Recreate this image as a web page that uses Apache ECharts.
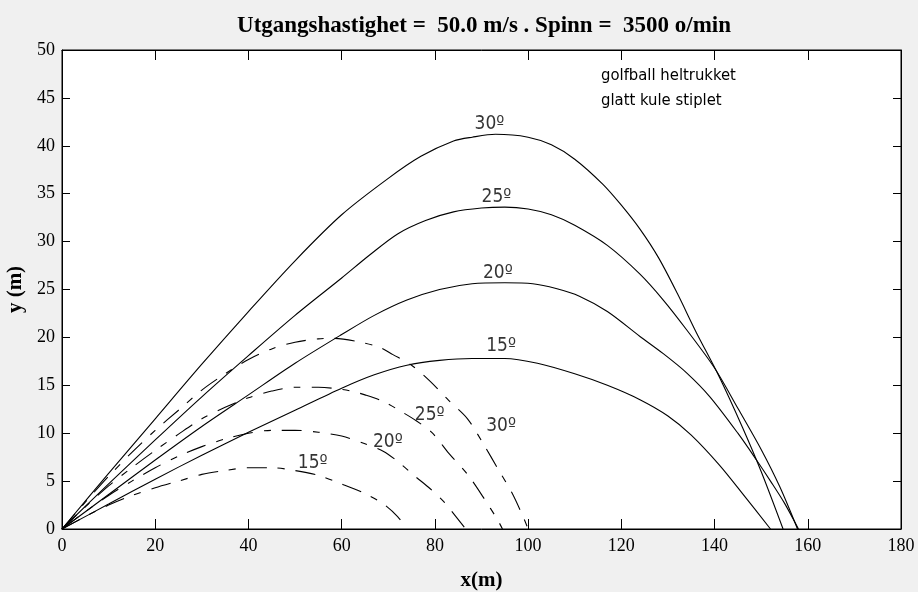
<!DOCTYPE html>
<html><head><meta charset="utf-8">
<script src="https://cdn.jsdelivr.net/npm/echarts@6/dist/echarts.min.js"></script>
<style>html,body{margin:0;padding:0;background:#f0f0f0}#c{width:918px;height:592px}</style>
</head><body><div id="c"></div>
<script>
// Golf ball (solid) trajectories [x, y]
const golf30 = [[0,0],[10,5.8],[20,11.5],[30,17.2],[40,22.7],[50,28.0],[60,32.8],[70,36.6],[77,38.9],[84,40.5],[88,40.9],[93,41.2],[100,40.9],[105,40.1],[110,38.6],[116,36.0],[120,33.8],[124,31.3],[128,28.3],[132,24.6],[136,20.6],[141,15.9],[146,10.6],[150,6.0],[154.7,0]];
const golf25 = [[0,0],[10,4.7],[20,9.3],[30,13.8],[40,18.1],[50,22.3],[60,26.2],[66,28.6],[72,30.8],[78,32.2],[84,33.1],[90,33.5],[95,33.6],[100,33.4],[105,32.8],[110,31.7],[117,29.6],[124,26.6],[129,23.9],[134,20.8],[140,16.8],[145,12.6],[150,8.3],[154,4.4],[157.8,0]];
const golf20 = [[0,0],[10,3.6],[20,7.2],[30,10.7],[40,14.0],[50,17.3],[60,20.3],[67,22.3],[74,23.9],[81,25.0],[88,25.6],[95,25.7],[101,25.6],[106,25.1],[111,24.3],[117,22.7],[124,20.1],[129,18.3],[134,16.3],[139,13.8],[145,10.0],[149,7.2],[152,5.0],[155,2.7],[158,0]];
const golf15 = [[0,0],[10,2.6],[20,5.2],[30,7.7],[40,10.1],[50,12.4],[60,14.7],[67,16.1],[74,17.1],[81,17.6],[88,17.8],[95,17.8],[102,17.3],[110,16.2],[117,15.0],[124,13.5],[130,11.8],[135,9.8],[141,6.7],[146,3.7],[152,0]];
// Smooth ball (dashed) trajectories [x, y]
const smooth30 = [[0,0],[5,2.8],[10,5.5],[15,8.0],[20,10.3],[25,12.4],[30,14.5],[35,16.2],[40,17.7],[45,18.8],[50,19.5],[55,19.85],[58,19.9],[63,19.6],[68,19.0],[71,18.2],[75,17.1],[79,15.4],[83,13.4],[87,11.5],[90.5,8.8],[93.5,6.3],[96.5,3.8],[99,1.2],[100,0]];
const smooth25 = [[0,0],[5,2.3],[10,4.5],[15,6.4],[20,8.2],[25,9.9],[30,11.5],[35,12.7],[40,13.7],[45,14.4],[50,14.8],[55,14.8],[58,14.7],[62,14.4],[65,14.0],[69,13.3],[73,12.2],[76,11.3],[79.5,10.0],[83,7.9],[87,5.7],[90.4,3.3],[93.4,1.0],[94.5,0]];
const smooth20 = [[0,0],[5,1.8],[10,3.5],[15,5.0],[20,6.4],[25,7.6],[30,8.6],[35,9.4],[40,10.0],[45,10.3],[50,10.3],[55,10.1],[60,9.7],[65,8.9],[69,8.1],[72.4,6.9],[76,5.4],[79,4.2],[82,2.8],[86.6,0]];
const smooth15 = [[0,0],[5,1.3],[10,2.5],[15,3.5],[20,4.3],[25,5.0],[30,5.7],[35,6.1],[40,6.4],[45,6.4],[50,6.1],[55,5.6],[60,4.7],[65,3.7],[69,2.6],[72,1.3],[74,0]];
// Angle annotations [x, y, text]
const solidLabels = [[91.7,42.3,'30º'],[93.2,34.7,'25º'],[93.5,26.7,'20º'],[94.2,19.1,'15º']];
const dashLabels = [[78.9,11.9,'25º'],[94.2,10.7,'30º'],[69.9,9.1,'20º'],[53.8,6.9,'15º']];
const titleText = 'Utgangshastighet =  50.0 m/s . Spinn =  3500 o/min';
const legendText = 'golfball heltrukket\nglatt kule stiplet';

const sansN = '"Liberation Sans Narrow","DejaVu Sans Condensed","Liberation Sans",sans-serif';
const serif = '"Liberation Serif","DejaVu Serif",serif';

function solid(d){return {type:'line',data:d,showSymbol:false,smooth:0.3,lineStyle:{color:'#000',width:1.1},silent:true,z:3};}
function dashed(d){return {type:'line',data:d,showSymbol:false,smooth:0.3,lineStyle:{color:'#000',width:1.1,type:[20,11,7,11]},silent:true,z:3};}
function labels(arr){return {type:'scatter',symbolSize:0,silent:true,z:4,
  data:arr.map(a=>({value:[a[0],a[1]],name:a[2]})),
  label:{show:true,position:'inside',formatter:p=>p.name,color:'#000',fontFamily:sansN,fontSize:19}};}

const chart = echarts.init(document.getElementById('c'));
const axCommon = {type:'value',axisLine:{show:true,onZero:false,lineStyle:{color:'#000',width:1}},
  splitLine:{show:false},axisTick:{show:true,inside:true,lineStyle:{color:'#000'}}};
chart.setOption({
  backgroundColor:'#f0f0f0',
  animation:false,
  title:{text:titleText,left:479,top:10,textAlign:'center',textStyle:{fontFamily:serif,fontWeight:'bold',fontSize:23,color:'#000'}},
  grid:{left:62,right:17,top:50,bottom:63,outerBoundsMode:'none',containLabel:false,show:true,backgroundColor:'#fff',borderColor:'#000',borderWidth:1},
  xAxis:[
    Object.assign({},axCommon,{min:0,max:180,interval:20,position:'bottom',axisTick:{show:true,inside:true,length:10,lineStyle:{color:'#000'}},
      axisLabel:{color:'#000',fontFamily:serif,fontSize:18,margin:8},
      name:'x(m)',nameLocation:'middle',nameGap:41,nameTextStyle:{fontFamily:serif,fontWeight:'bold',fontSize:21,color:'#000'}}),
    Object.assign({},axCommon,{min:0,max:180,interval:20,position:'top',axisTick:{show:true,inside:true,length:10,lineStyle:{color:'#000'}},axisLabel:{show:false}})
  ],
  yAxis:[
    Object.assign({},axCommon,{min:0,max:50,interval:5,position:'left',axisTick:{show:true,inside:true,length:8,lineStyle:{color:'#000'}},
      axisLabel:{color:'#000',fontFamily:serif,fontSize:18,margin:7},
      name:'y (m)',nameLocation:'middle',nameGap:34,nameRotate:90,nameTextStyle:{fontFamily:serif,fontWeight:'bold',fontSize:21,color:'#000'}}),
    Object.assign({},axCommon,{min:0,max:50,interval:5,position:'right',axisTick:{show:true,inside:true,length:8,lineStyle:{color:'#000'}},axisLabel:{show:false}})
  ],
  graphic:[{type:'text',left:601,top:63,style:{text:legendText,font:'16.5px '+sansN,lineHeight:25,fill:'#000'}}],
  series:[solid(golf30),solid(golf25),solid(golf20),solid(golf15),
    dashed(smooth30),dashed(smooth25),dashed(smooth20),dashed(smooth15),
    labels(solidLabels),labels(dashLabels)]
});
</script></body></html>
